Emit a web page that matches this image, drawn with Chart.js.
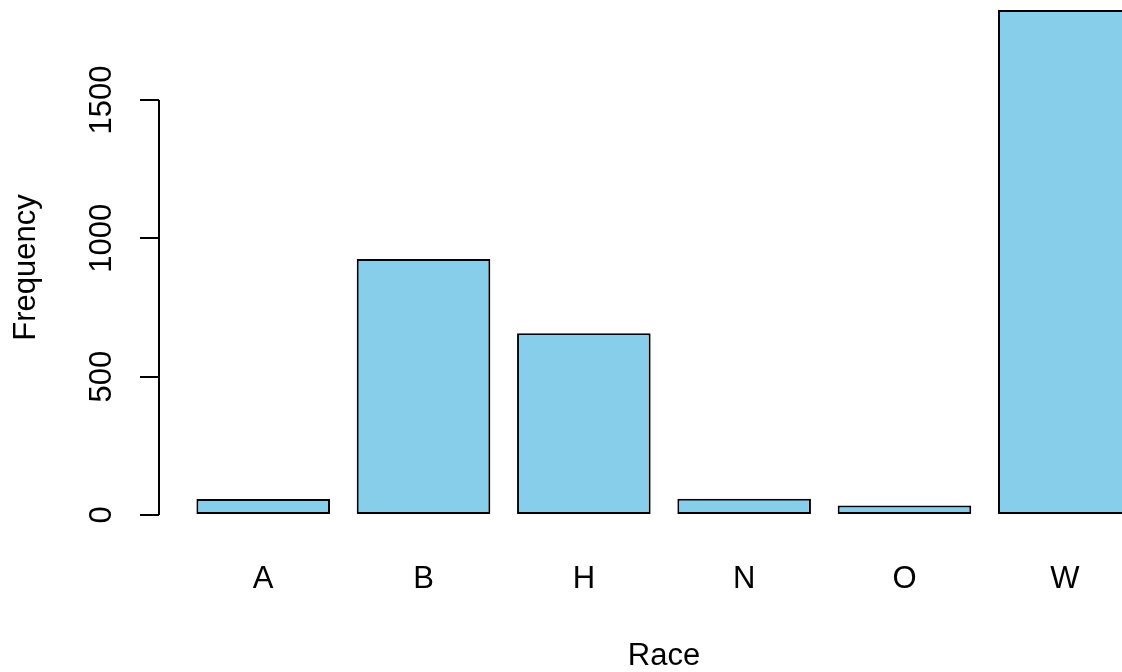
<!DOCTYPE html>
<html>
<head>
<meta charset="utf-8">
<title>Race</title>
<script src="https://cdn.jsdelivr.net/npm/chart.js@4.4.1/dist/chart.umd.min.js"></script>
<style>
  html, body { margin: 0; padding: 0; background: #fff; overflow: hidden; }
  #wrap { width: 1169px; height: 672px; }
</style>
</head>
<body>
<div id="wrap"><canvas id="chart" width="1169" height="672"></canvas></div>
<script>
// Frequency of each race code
const races = ['A', 'B', 'H', 'N', 'O', 'W'];
const counts = [58, 925, 657, 59, 34, 1825];
const yTicks = [0, 500, 1000, 1500];

const FONT = { family: '"Liberation Sans", Arial, Helvetica, sans-serif', size: 31 };

// R-style axis line: only runs from the first tick to the last one
const yAxisLine = {
  id: 'yAxisLine',
  afterDraw(chart) {
    const y = chart.scales.y;
    const ctx = chart.ctx;
    const x = chart.chartArea.left;
    ctx.save();
    ctx.strokeStyle = '#000';
    ctx.lineWidth = 2;
    ctx.beginPath();
    ctx.moveTo(x, y.getPixelForValue(yTicks[0]));
    ctx.lineTo(x, y.getPixelForValue(yTicks[yTicks.length - 1]));
    ctx.stroke();
    ctx.restore();
  }
};

new Chart(document.getElementById('chart'), {
  type: 'bar',
  data: {
    datasets: [{
      data: races.map((r, i) => ({ x: i + 1, y: counts[i] })),
      backgroundColor: '#87CEEB',
      borderColor: '#000',
      borderWidth: 2,
      borderSkipped: false,
      barPercentage: 1 / 1.2,
      categoryPercentage: 1,
      clip: false
    }]
  },
  options: {
    responsive: false,
    animation: false,
    layout: { padding: 0 },
    plugins: { legend: { display: false }, tooltip: { enabled: false } },
    scales: {
      x: {
        type: 'linear',
        min: 0.35,
        max: 6.65,
        offset: false,
        grid: { display: false },
        border: { display: false },
        afterBuildTicks: s => { s.ticks = races.map((r, i) => ({ value: i + 1 })); },
        afterFit: s => { s.height = 137; s.paddingLeft = 0; s.paddingRight = 0; },
        ticks: {
          color: '#000', font: FONT, padding: 18, maxRotation: 0, autoSkip: false,
          callback: v => races[v - 1]
        },
        title: { display: true, text: 'Race', color: '#000', font: { ...FONT, lineHeight: 1 }, padding: 0 }
      },
      y: {
        min: -72.3,
        max: 1861.4,
        grid: { drawOnChartArea: false, drawTicks: true, tickLength: 19, color: '#000', lineWidth: 2 },
        border: { display: false },
        afterBuildTicks: s => { s.ticks = yTicks.map(v => ({ value: v })); },
        afterFit: s => { s.width = 159; s.paddingTop = 0; s.paddingBottom = 0; },
        ticks: {
          color: '#000', font: FONT, padding: 3, minRotation: 90, maxRotation: 90, crossAlign: 'center',
          callback: v => String(v)
        },
        title: { display: true, text: 'Frequency', color: '#000', font: FONT, padding: { top: 8 } }
      }
    }
  },
  plugins: [yAxisLine]
});
</script>
</body>
</html>
